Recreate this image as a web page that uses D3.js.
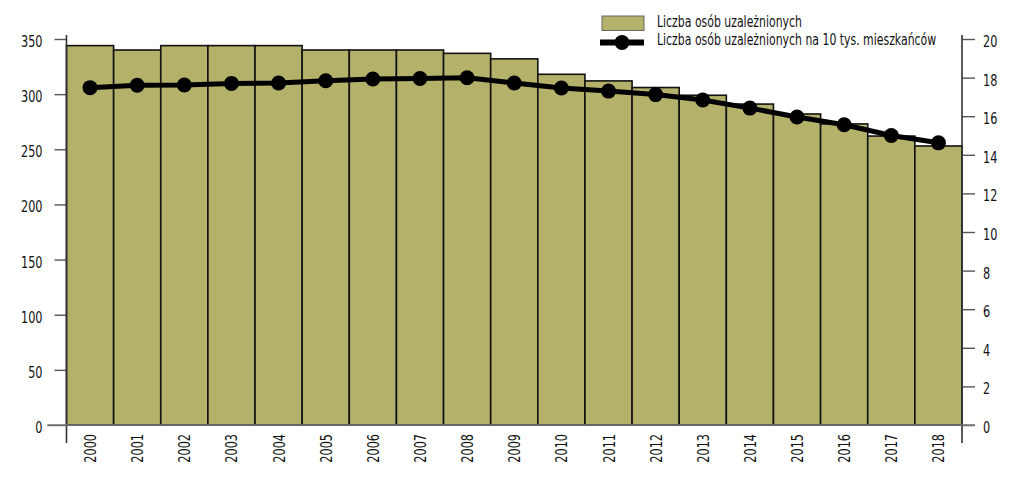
<!DOCTYPE html>
<html><head><meta charset="utf-8">
<script src="https://cdn.jsdelivr.net/npm/d3@7"></script>
<style>
body{margin:0;background:#fff;}
text{font-family:"DejaVu Sans Condensed","DejaVu Sans",sans-serif;font-stretch:condensed;fill:#111;}
</style></head><body>
<svg id="c" width="1024" height="485"></svg>
<script>
const years = ["2000","2001","2002","2003","2004","2005","2006","2007","2008","2009","2010","2011","2012","2013","2014","2015","2016","2017","2018"];
const addicts = [344,340,344,344,344,340,340,340,337,332,318,312,306,299,291,282,273,262,253];
const per10k = [17.48,17.6,17.62,17.7,17.72,17.84,17.93,17.95,17.99,17.72,17.46,17.3,17.12,16.84,16.42,15.96,15.56,15.0,14.62];
const leftTicks = [0,50,100,150,200,250,300,350];
const rightTicks = [0,2,4,6,8,10,12,14,16,18,20];
const legendLabels = ["Liczba osób uzależnionych","Liczba osób uzależnionych na 10 tys. mieszkańców"];

const S = 0.76; // horizontal compression to mimic a condensed face
const SL = 0.735;
const svg = d3.select("#c");
const L=66.5, R=962, B=425, T=39;
const x = d3.scaleBand().domain(years).range([L,R]).padding(0);
const yL = d3.scaleLinear().domain([0,350]).range([B,T]);
const yR = d3.scaleLinear().domain([0,20]).range([B,T]);
const axisCol="#555";

// bars
svg.append("g").selectAll("rect").data(years).join("rect")
  .attr("x",d=>x(d)).attr("width",x.bandwidth())
  .attr("y",(d,i)=>yL(addicts[i])).attr("height",(d,i)=>B-yL(addicts[i]))
  .attr("fill","#b4b16a").attr("stroke","#111").attr("stroke-width",1.6);

function squeeze(sel){
  sel.each(function(){
    const t=d3.select(this); const xv=+t.attr("x")||0;
    t.attr("x",xv/S).attr("transform",`scale(${S},1)`);
  });
}

// left axis
const gl = svg.append("g").attr("transform",`translate(${L},0)`)
  .call(d3.axisLeft(yL).tickValues(leftTicks).tickSize(12).tickPadding(12));
gl.select(".domain").remove();
gl.selectAll(".tick line").attr("stroke",axisCol).attr("stroke-width",1.4);
gl.selectAll(".tick text").attr("font-size",16.5).attr("dy","0.45em").attr("font-family",null).attr("fill","#111");
squeeze(gl.selectAll(".tick text"));
gl.selectAll(".tick").filter(d=>d===0).select("line").attr("x2",-19);
svg.append("line").attr("x1",L).attr("x2",L).attr("y1",35).attr("y2",443).attr("stroke","#333").attr("stroke-width",1.6);

// right axis
const gr = svg.append("g").attr("transform",`translate(${R},0)`)
  .call(d3.axisRight(yR).tickValues(rightTicks).tickSize(13).tickPadding(8));
gr.select(".domain").remove();
gr.selectAll(".tick line").attr("stroke",axisCol).attr("stroke-width",1.4);
gr.selectAll(".tick text").attr("font-size",16.5).attr("dy","0.45em").attr("font-family",null).attr("fill","#111");
squeeze(gr.selectAll(".tick text"));
svg.append("line").attr("x1",R).attr("x2",R).attr("y1",35).attr("y2",443).attr("stroke","#333").attr("stroke-width",1.6);

// baseline
svg.append("line").attr("x1",L-19).attr("x2",R+13).attr("y1",B).attr("y2",B).attr("stroke","#777").attr("stroke-width",1.6);

// x labels (rotated; compress along reading direction)
svg.append("g").selectAll("text").data(years).join("text")
  .attr("transform",d=>`translate(${x(d)+x.bandwidth()/2+6},434) rotate(-90) scale(${S},1)`)
  .attr("text-anchor","end").attr("font-size",16.5).text(d=>d);

// line
const cx = d=>x(d)+x.bandwidth()/2;
const line = d3.line().x((d,i)=>cx(years[i])).y(d=>yR(d));
svg.append("path").datum(per10k).attr("d",line).attr("fill","none").attr("stroke","#000").attr("stroke-width",5).attr("stroke-linejoin","round");
svg.append("g").selectAll("circle").data(per10k).join("circle")
  .attr("cx",(d,i)=>cx(years[i])).attr("cy",d=>yR(d)).attr("r",7.5).attr("fill","#000");

// legend
const lg = svg.append("g");
lg.append("rect").attr("x",602).attr("y",16).attr("width",42).attr("height",14.5).attr("fill","#b4b16a").attr("stroke","#666").attr("stroke-width",1);
lg.append("line").attr("x1",600).attr("x2",644).attr("y1",42.5).attr("y2",42.5).attr("stroke","#000").attr("stroke-width",6);
lg.append("circle").attr("cx",622).attr("cy",42.5).attr("r",7.5).attr("fill","#000");
lg.selectAll("text").data(legendLabels).join("text")
  .attr("transform",(d,i)=>`translate(657,${i===0?27.3:45}) scale(${SL},1)`)
  .attr("font-size",16.5).text(d=>d);
</script>
</body></html>
